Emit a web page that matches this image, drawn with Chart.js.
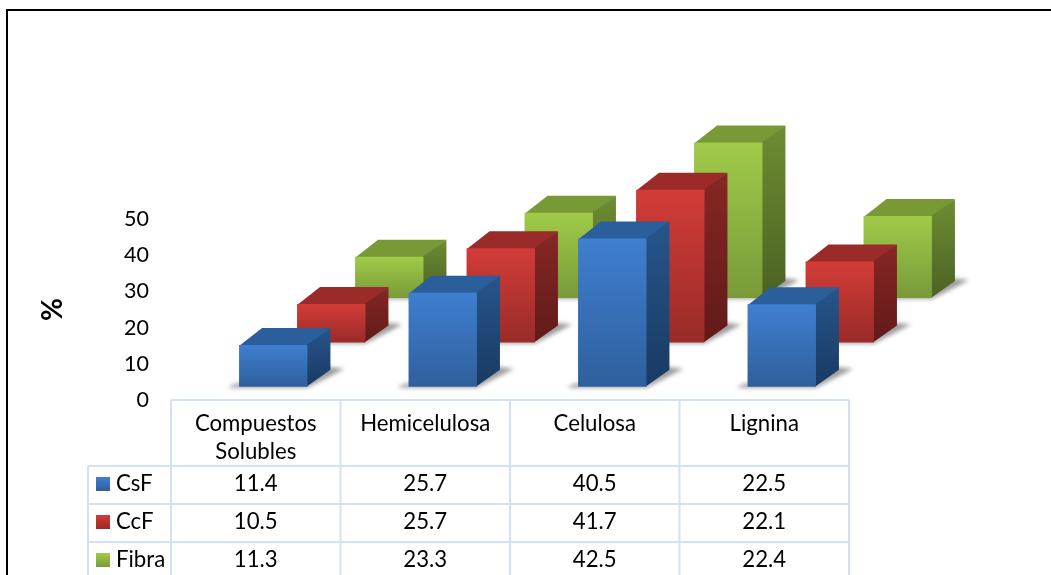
<!DOCTYPE html>
<html>
<head>
<meta charset="utf-8">
<style>
  html, body { margin: 0; padding: 0; background: #fff; overflow: hidden; }
  #wrap { width: 1051px; height: 575px; }
</style>
<script src="https://cdn.jsdelivr.net/npm/chart.js@4/dist/chart.umd.js"></script>
</head>
<body>
<div id="wrap"><canvas id="chart" width="1051" height="575"></canvas></div>
<script>
var categories = [["Compuestos", "Solubles"], ["Hemicelulosa"], ["Celulosa"], ["Lignina"]];
var seriesNames = ["CsF", "CcF", "Fibra"];
var csfValues = [11.4, 25.7, 40.5, 22.5];
var ccfValues = [10.5, 25.7, 41.7, 22.1];
var fibraValues = [11.3, 23.3, 42.5, 22.4];
var tableText = ["11.4", "25.7", "40.5", "22.5", "10.5", "25.7", "41.7", "22.1", "11.3", "23.3", "42.5", "22.4"];
var yTicks = [0, 10, 20, 30, 40, 50];

// colores de las caras: frente arriba/abajo, tapa, lado arriba/abajo
var faces = [
  { a: "#3f7fd0", b: "#2f5f9c", top: "#2b5f9b", s1: "#26558c", s2: "#193a62" },
  { a: "#d33c38", b: "#992b28", top: "#9b2b29", s1: "#862725", s2: "#611a18" },
  { a: "#a0cb49", b: "#789a39", top: "#779a36", s1: "#6e8d33", s2: "#4b6222" }
];

var font = "Lato";
var barW = 68.4, depthX = 23, depthY = 17; // prisma
var stepX = 58, stepY = 44.3;              // separacion entre series
var shiftX = 17.5, shiftY = 13.3;          // serie de adelante respecto al eje

function poly(ctx, pts, fill) {
  ctx.beginPath();
  pts.forEach(function(p, i) { i ? ctx.lineTo(p[0], p[1]) : ctx.moveTo(p[0], p[1]); });
  ctx.closePath();
  ctx.fillStyle = fill;
  ctx.fill();
}

function grad(ctx, y0, y1, c0, c1) {
  var g = ctx.createLinearGradient(0, y0, 0, y1);
  g.addColorStop(0, c0);
  g.addColorStop(1, c1);
  return g;
}

var prisms = {
  id: "prisms",
  beforeDatasetDraw: function(chart, args) {
    var ctx = chart.ctx, i = args.index, f = faces[i];
    args.meta.data.forEach(function(el) {
      var l = el.x - barW / 2 + shiftX + i * stepX, r = l + barW;
      var t = el.y - shiftY - i * stepY, b = el.base - shiftY - i * stepY;
      // sombra en el piso
      ctx.save();
      ctx.filter = "blur(2px)";
      poly(ctx, [[l - 11, b + 1], [r, b + 1], [r + depthX + 14, b - depthY - 1], [r + depthX - 4, b - depthY - 3], [r, b - 3], [l - 4, b - 3]], "rgba(90,90,90,0.6)");
      ctx.restore();
      // tapa y lado primero, un poco metidos debajo del frente para que no quede una linea clara
      poly(ctx, [[l, t + 1], [l + depthX, t - depthY], [r + depthX, t - depthY], [r, t + 1]], f.top);
      poly(ctx, [[r - 1, t], [r + depthX, t - depthY], [r + depthX, b - depthY], [r - 1, b]], grad(ctx, t - depthY, b, f.s1, f.s2));
      poly(ctx, [[l, t], [r, t], [r, b], [l, b]], grad(ctx, t, b, f.a, f.b));
    });
    return false;
  }
};

var dataTable = {
  id: "dataTable",
  afterDraw: function(chart) {
    var ctx = chart.ctx, x = chart.scales.x;
    var n = categories.length;
    var colW = (x.right - x.left) / n;
    var edges = [];
    for (var c = 0; c <= n; c++) edges.push(x.left + c * colW);
    var top = 400, rows = [466, 504, 542], bottom = 580, left = 88;

    ctx.save();
    // marco
    ctx.strokeStyle = "#000";
    ctx.lineWidth = 2;
    ctx.beginPath();
    ctx.moveTo(7, 580);
    ctx.lineTo(7, 10);
    ctx.lineTo(1051, 10);
    ctx.stroke();

    ctx.strokeStyle = "#d4e1f2";
    ctx.beginPath();
    edges.forEach(function(e) { ctx.moveTo(e, top); ctx.lineTo(e, bottom); });
    ctx.moveTo(edges[0], top); ctx.lineTo(edges[n], top);
    rows.forEach(function(y) { ctx.moveTo(left, y); ctx.lineTo(edges[n], y); });
    ctx.moveTo(left, rows[0]); ctx.lineTo(left, bottom);
    ctx.stroke();

    ctx.fillStyle = "#000";
    ctx.font = "22.2px " + font;
    ctx.textAlign = "center";
    ctx.textBaseline = "middle";
    categories.forEach(function(lines, c) {
      lines.forEach(function(s, k) {
        ctx.fillText(s, x.getPixelForTick(c), 424 + k * 28);
      });
    });
    seriesNames.forEach(function(name, s) {
      var y = rows[s] + 18;
      for (var c = 0; c < n; c++) {
        ctx.fillText(tableText[s * n + c], x.getPixelForTick(c), y);
      }
      ctx.fillStyle = grad(ctx, y - 7, y + 7, faces[s].a, faces[s].b);
      ctx.fillRect(96, y - 7, 14, 14);
      ctx.fillStyle = "#000";
      ctx.textAlign = "left";
      ctx.fillText(name, 116, y);
      ctx.textAlign = "center";
    });
    ctx.restore();
  }
};

new Chart(document.getElementById("chart"), {
  type: "bar",
  data: {
    labels: categories,
    datasets: [
      { label: seriesNames[0], data: csfValues, backgroundColor: faces[0].a, yAxisID: "yBars" },
      { label: seriesNames[1], data: ccfValues, backgroundColor: faces[1].a, yAxisID: "yBars" },
      { label: seriesNames[2], data: fibraValues, backgroundColor: faces[2].a, yAxisID: "yBars" }
    ]
  },
  options: {
    responsive: false,
    animation: false,
    events: [],
    grouped: false,
    barThickness: barW,
    layout: { padding: { left: 0, right: 202, top: 219, bottom: 175 } },
    plugins: { legend: { display: false }, tooltip: { enabled: false } },
    scales: {
      x: { display: false, offset: true, grid: { display: false } },
      y: {
        position: "left",
        min: 0,
        max: 50,
        afterFit: function(scale) { scale.width = 171; },
        afterBuildTicks: function(scale) { scale.ticks = yTicks.map(function(v) { return { value: v }; }); },
        grid: { display: false, drawTicks: false },
        border: { display: false },
        ticks: { color: "#000", padding: 22, font: { family: font, size: 21.5 } },
        title: {
          display: true,
          text: "%",
          color: "#000",
          padding: { top: 36, bottom: 0 },
          font: { family: font, size: 28, weight: "bold" }
        }
      },
      // las barras van un poco mas altas que las marcas del eje
      yBars: { display: false, min: 0, max: 49.45, position: "left" }
    }
  },
  plugins: [prisms, dataTable]
});
</script>
</body>
</html>
